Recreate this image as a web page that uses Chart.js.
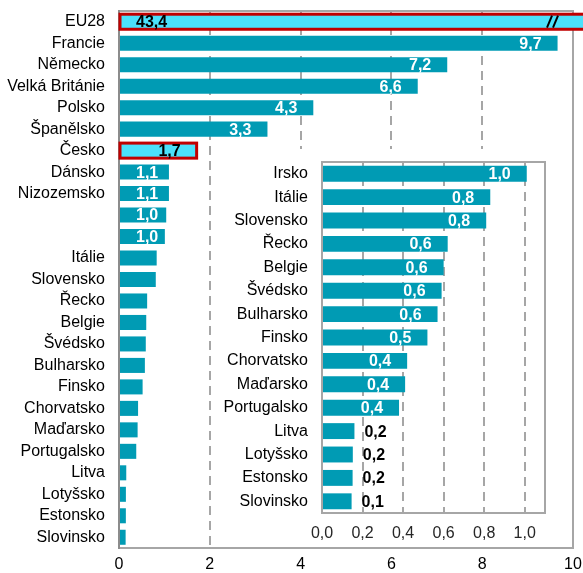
<!DOCTYPE html>
<html>
<head>
<meta charset="utf-8">
<script src="https://cdn.jsdelivr.net/npm/chart.js@4.4.1/dist/chart.umd.min.js"></script>
<style>
  html, body { margin: 0; padding: 0; background: #fff; }
  #wrap { position: relative; width: 583px; height: 573px; }
  #main { position: absolute; left: 0; top: 0; }
  #inset { position: absolute; left: 213px; top: 149px; background: #fff; }
</style>
</head>
<body>
<div id="wrap">
  <canvas id="main" width="583" height="573"></canvas>
  <canvas id="inset" width="358" height="396"></canvas>
</div>
<script>
// Main ranking (two rows without a country name)
const mainLabels = ['EU28', 'Francie', 'Německo', 'Velká Británie', 'Polsko', 'Španělsko', 'Česko',
  'Dánsko', 'Nizozemsko', '', '', 'Itálie', 'Slovensko', 'Řecko', 'Belgie', 'Švédsko',
  'Bulharsko', 'Finsko', 'Chorvatsko', 'Maďarsko', 'Portugalsko', 'Litva', 'Lotyšsko',
  'Estonsko', 'Slovinsko'];
const mainValues = [43.4, 9.66, 7.23, 6.58, 4.28, 3.27, 1.71,
  1.1, 1.1, 1.04, 1.01, 0.83, 0.81, 0.62, 0.6, 0.59,
  0.57, 0.52, 0.42, 0.41, 0.38, 0.16, 0.152,
  0.151, 0.146];
const highlighted = ['EU28', 'Česko'];
const mainTicks = [0, 2, 4, 6, 8, 10];
const mainLabelledRows = 11;

// Detail of the smaller values
const insetLabels = ['Irsko', 'Itálie', 'Slovensko', 'Řecko', 'Belgie', 'Švédsko', 'Bulharsko',
  'Finsko', 'Chorvatsko', 'Maďarsko', 'Portugalsko', 'Litva', 'Lotyšsko', 'Estonsko', 'Slovinsko'];
const insetValues = [1.01, 0.83, 0.81, 0.62, 0.6, 0.59, 0.57,
  0.52, 0.42, 0.41, 0.38, 0.16, 0.152, 0.151, 0.146];
const insetTicks = [0, 0.2, 0.4, 0.6, 0.8, 1.0];

const TEAL = '#009BB4';
const CYAN = '#4BE1FB';
const RED = '#C00000';
const GRID = '#A6A6A6';
const FONT = '"Liberation Sans", Arial, sans-serif';

Chart.defaults.font.family = FONT;
Chart.defaults.font.size = 16;
Chart.defaults.color = '#000';

const fmt = v => v.toFixed(1).replace('.', ',');

// Grey box round the plot area, darker line for the value axis origin
const framePlugin = {
  id: 'frame',
  beforeDatasetsDraw(chart, args, o) {
    const { ctx, chartArea: { left, right, top, bottom } } = chart;
    ctx.save();
    ctx.lineWidth = 2;
    ctx.strokeStyle = o.color;
    ctx.strokeRect(left, top, right - left, bottom - top);
    ctx.strokeStyle = o.axisColor;
    ctx.beginPath();
    ctx.moveTo(left, top - 1);
    ctx.lineTo(left, bottom + 1);
    ctx.stroke();
    ctx.restore();
  }
};

// Red outline on highlighted bars and the break mark on the off-scale bar
const highlightPlugin = {
  id: 'highlight',
  afterDatasetsDraw(chart) {
    const { ctx, chartArea } = chart;
    const meta = chart.getDatasetMeta(0);
    const labels = chart.data.labels;
    ctx.save();
    meta.data.forEach((bar, i) => {
      if (!highlighted.includes(labels[i])) return;
      const h = bar.height;
      ctx.strokeStyle = RED;
      ctx.lineWidth = 3;
      ctx.strokeRect(bar.base, bar.y - h / 2, bar.x - bar.base, h);
      if (bar.x > chartArea.right) {
        ctx.strokeStyle = '#000';
        ctx.lineWidth = 2;
        const x0 = chartArea.right - 26;
        [0, 6].forEach(dx => {
          ctx.beginPath();
          ctx.moveTo(x0 + dx, bar.y + 6);
          ctx.lineTo(x0 + dx + 5, bar.y - 6);
          ctx.stroke();
        });
      }
    });
    ctx.restore();
  }
};

// Value printed at the bar end (inside when there is room, else outside)
const valueLabelPlugin = {
  id: 'valueLabels',
  afterDatasetsDraw(chart, args, o) {
    const { ctx, chartArea } = chart;
    const meta = chart.getDatasetMeta(0);
    const values = chart.data.datasets[0].data;
    const labels = chart.data.labels;
    ctx.save();
    ctx.font = 'bold 16px ' + FONT;
    ctx.textBaseline = 'middle';
    ctx.textAlign = 'left';
    meta.data.forEach((bar, i) => {
      if (i >= o.rows) return;
      const text = fmt(values[i]);
      const w = ctx.measureText(text).width;
      const base = bar.base, end = bar.x;
      const dark = highlighted.includes(labels[i]);
      let left, color;
      if (end > chartArea.right) {
        left = base + 16; color = '#000';
      } else if (end - base < 40) {
        left = end + 10; color = '#000';
      } else {
        left = Math.max(end - 16 - w, base + 16);
        color = dark ? '#000' : '#fff';
      }
      ctx.fillStyle = color;
      ctx.fillText(text, left, bar.y + 1);
    });
    ctx.restore();
  }
};

function barChart(canvas, cfg) {
  return new Chart(canvas, {
    type: 'bar',
    data: {
      labels: cfg.labels,
      datasets: [{
        data: cfg.values,
        backgroundColor: cfg.labels.map(l => highlighted.includes(l) && cfg.highlight ? CYAN : TEAL),
        borderWidth: 0,
        barPercentage: cfg.barPct,
        categoryPercentage: 1,
        clip: false
      }]
    },
    options: {
      indexAxis: 'y',
      responsive: false,
      animation: false,
      events: [],
      layout: { padding: cfg.padding },
      plugins: {
        legend: { display: false },
        tooltip: { enabled: false },
        frame: { color: GRID, axisColor: cfg.axisColor },
        valueLabels: { rows: cfg.labelRows }
      },
      scales: {
        x: {
          type: 'linear',
          min: 0,
          max: cfg.max,
          afterBuildTicks: s => { s.ticks = cfg.ticks.map(v => ({ value: v })); },
          afterFit: s => {
            s.height = cfg.xHeight;
            s.paddingLeft = 0; s.paddingRight = 0;
          },
          ticks: {
            padding: cfg.xPad,
            color: cfg.tickColor,
            maxRotation: 0,
            autoSkip: false,
            callback: cfg.tickFmt
          },
          grid: {
            color: c => (c.tick && c.tick.value === 0) || (c.tick && c.tick.value === cfg.max) ? 'rgba(0,0,0,0)' : GRID,
            lineWidth: 2,
            drawTicks: false
          },
          border: { display: false, dash: [9, 6] }
        },
        y: {
          afterFit: s => {
            s.width = cfg.yWidth;
            s.paddingTop = 0; s.paddingBottom = 0;
          },
          ticks: { padding: 14, autoSkip: false, color: '#000' },
          grid: { display: false, drawTicks: false },
          border: { display: false }
        }
      }
    },
    plugins: [framePlugin, highlightPlugin, valueLabelPlugin]
  });
}

barChart(document.getElementById('main'), {
  labels: mainLabels,
  values: mainValues,
  highlight: true,
  barPct: 0.7,
  padding: { left: 0, top: 11, right: 10, bottom: 0 },
  max: 10,
  ticks: mainTicks,
  tickFmt: v => String(v),
  tickColor: '#000',
  xHeight: 25,
  xPad: 7,
  yWidth: 119,
  axisColor: '#8C8C8C',
  labelRows: mainLabelledRows
});

barChart(document.getElementById('inset'), {
  labels: insetLabels,
  values: insetValues,
  highlight: false,
  barPct: 0.68,
  padding: { left: 0, top: 13, right: 26, bottom: 0 },
  max: 1.1,
  ticks: insetTicks,
  tickFmt: v => fmt(v),
  tickColor: '#262626',
  xHeight: 32,
  xPad: 11,
  yWidth: 109,
  axisColor: GRID,
  labelRows: insetLabels.length
});
</script>
</body>
</html>
